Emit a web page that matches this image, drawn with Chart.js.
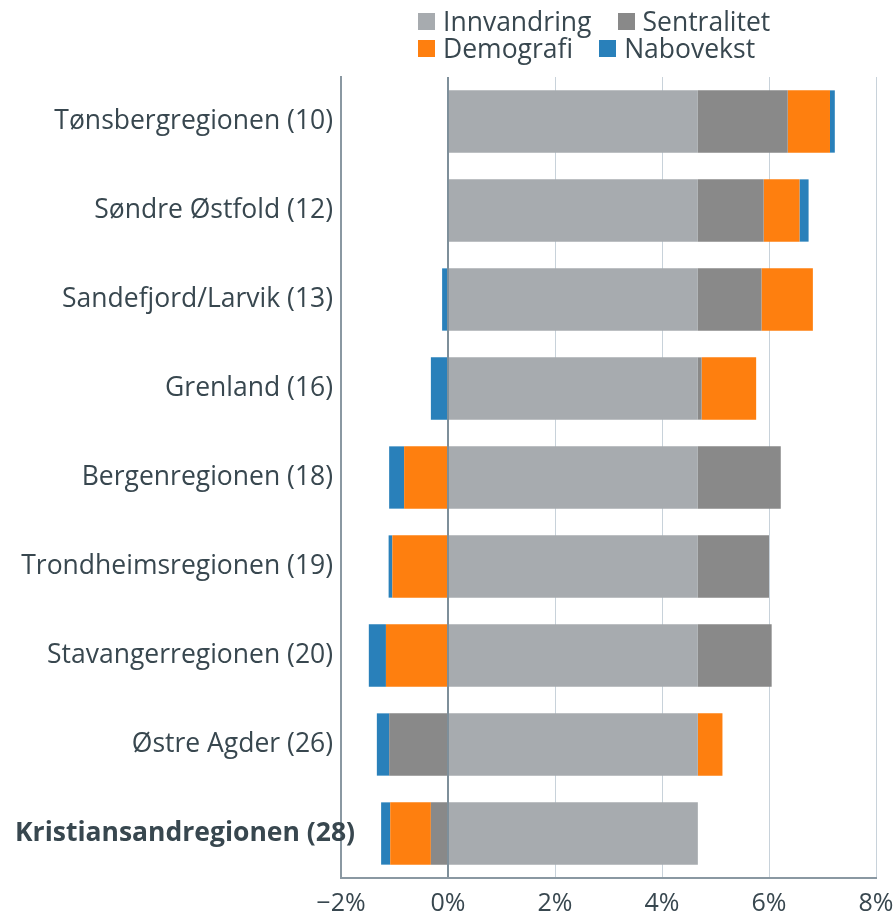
<!DOCTYPE html>
<html>
<head>
<meta charset="utf-8">
<script src="https://cdn.jsdelivr.net/npm/chart.js@4.4.1/dist/chart.umd.min.js"></script>
<style>
  html, body { margin: 0; padding: 0; background: #fff; }
  #wrap { position: relative; width: 895px; height: 912px; font-family: "Open Sans", sans-serif; color: #38474f; }
  #legend { position: absolute; left: 418px; top: 8px; font-size: 26.5px; line-height: 27px; }
  .row { display: flex; gap: 26px; white-space: nowrap; }
  .item { display: flex; align-items: center; gap: 8px; }
  .box { width: 17px; height: 17px; display: inline-block; }
  canvas { position: absolute; left: 0; top: 0; }
</style>
</head>
<body>
<div id="wrap">
  <canvas id="chart" width="895" height="912"></canvas>
  <div id="legend"></div>
</div>
<script>
// regioner (rangering i parentes)
const regions = [
  'Tønsbergregionen (10)',
  'Søndre Østfold (12)',
  'Sandefjord/Larvik (13)',
  'Grenland (16)',
  'Bergenregionen (18)',
  'Trondheimsregionen (19)',
  'Stavangerregionen (20)',
  'Østre Agder (26)',
  'Kristiansandregionen (28)'
];

// bidrag i prosent
const innvandring = [4.67, 4.67, 4.67, 4.67, 4.67, 4.67, 4.67, 4.67, 4.67];
const sentralitet = [1.68, 1.23, 1.19, 0.07, 1.55, 1.33, 1.38, -1.10, -0.32];
const demografi   = [0.79, 0.67, 0.96, 1.02, -0.82, -1.04, -1.16, 0.46, -0.76];
const nabovekst   = [0.09, 0.17, -0.11, -0.32, -0.28, -0.07, -0.32, -0.23, -0.17];

const seriesNames = ['Innvandring', 'Sentralitet', 'Demografi', 'Nabovekst'];
const seriesData = [innvandring, sentralitet, demografi, nabovekst];
const seriesColors = ['#a7abaf', '#898989', '#fe7f0f', '#2980ba'];

const xTicks = [-2, 0, 2, 4, 6, 8];

const textColor = '#38474f';
const labelFont = { family: '"Open Sans", sans-serif', size: 26.5 };
const tickFont = { family: '"Open Sans", sans-serif', size: 25 };
const highlight = regions.length - 1; // fet skrift for siste region

// Legende i to rader (2 + 2)
const legend = document.getElementById('legend');
[[0, 1], [2, 3]].forEach(idx => {
  const row = document.createElement('div');
  row.className = 'row';
  idx.forEach(i => {
    row.innerHTML += `<span class="item"><span class="box" style="background:${seriesColors[i]}"></span>${seriesNames[i]}</span>`;
  });
  legend.appendChild(row);
});

// tegner den fete etiketten selv, slik at den kan gå forbi aksen
const boldLabel = {
  id: 'boldLabel',
  afterDraw(chart) {
    const y = chart.scales.y;
    const ctx = chart.ctx;
    ctx.save();
    ctx.font = 'bold 26.5px "Open Sans", sans-serif';
    ctx.fillStyle = textColor;
    ctx.textAlign = 'left';
    ctx.textBaseline = 'middle';
    ctx.fillText(regions[highlight], 15, y.getPixelForValue(highlight));
    ctx.restore();
  }
};

new Chart(document.getElementById('chart'), {
  type: 'bar',
  data: {
    labels: regions,
    datasets: seriesNames.map((name, i) => ({
      label: name,
      data: seriesData[i],
      backgroundColor: seriesColors[i],
      borderWidth: 0,
      categoryPercentage: 1,
      barPercentage: 0.7
    }))
  },
  options: {
    indexAxis: 'y',
    responsive: false,
    animation: false,
    layout: { padding: { top: 77, right: 19, left: 0, bottom: 0 } },
    plugins: {
      legend: { display: false },
      tooltip: { enabled: false }
    },
    scales: {
      x: {
        stacked: true,
        min: -2,
        max: 8,
        afterBuildTicks: s => { s.ticks = xTicks.map(v => ({ value: v })); },
        afterFit: s => { s.height = 34; s.paddingLeft = 0; s.paddingRight = 0; },
        grid: {
          drawTicks: false,
          color: c => c.tick && c.tick.value === 0 ? '#7e8f9a' : '#c8d2da',
          lineWidth: c => c.tick && c.tick.value === 0 ? 2 : 1
        },
        border: { display: true, color: '#8a98a2', width: 2 },
        ticks: {
          color: textColor,
          font: tickFont,
          padding: 11,
          callback: v => (v < 0 ? '\u2212' + Math.abs(v) : v) + '%'
        }
      },
      y: {
        stacked: true,
        afterFit: s => { s.width = 341; s.paddingTop = 0; s.paddingBottom = 0; },
        grid: { display: false, drawTicks: false },
        border: { display: true, color: '#8a98a2', width: 2 },
        ticks: {
          color: c => c.index === highlight ? 'rgba(0,0,0,0)' : textColor,
          font: labelFont,
          padding: 8
        }
      }
    }
  },
  plugins: [boldLabel]
});
</script>
</body>
</html>
